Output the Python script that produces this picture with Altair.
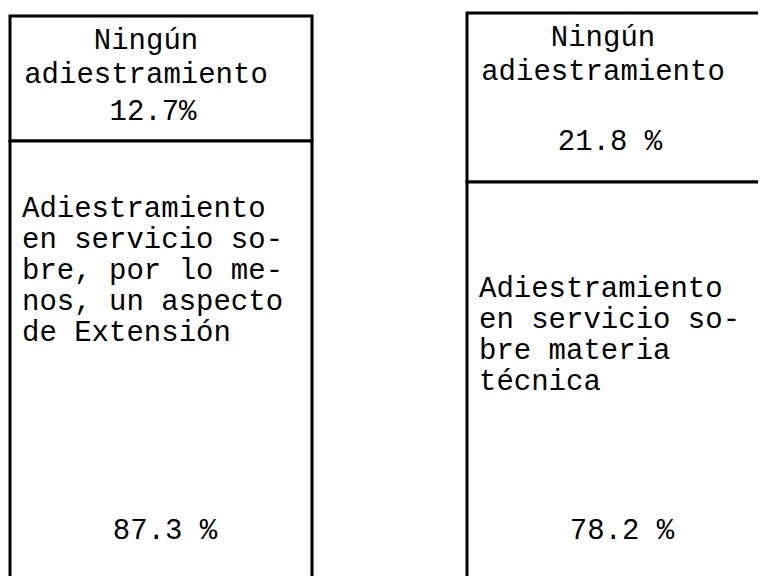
import altair as alt
import pandas as pd

# ---- data ----
paneles = ["Extensión", "Materia técnica"]
ningun_pct = [12.7, 21.8]
adiestr_pct = [87.3, 78.2]
ningun_txt = ["12.7%", "21.8 %"]
adiestr_txt = ["87.3 %", "78.2 %"]
etiqueta_sup = "Ningún\nadiestramiento"
etiqueta_inf = [
    "Adiestramiento\nen servicio so-\nbre, por lo me-\nnos, un aspecto\nde Extensión",
    "Adiestramiento\nen servicio so-\nbre materia\ntécnica",
]

# ---- styling per panel (scale windows / label offsets) ----
y_dominios = [[43.1, 100.8], [27.4, 100.65]]
anchos = [306, 293]
inf_dy = [53, 92]
pct_sup_dy = [-44, -55]
pct_inf_dy = [375, 334]

FONT = "Liberation Mono"
FS = 29


def panel(i):
    df = pd.DataFrame({
        "panel": [paneles[i]] * 2,
        "segmento": ["Ningún adiestramiento", "Adiestramiento en servicio"],
        "valor": [ningun_pct[i], adiestr_pct[i]],
        "orden": [1, 0],
        "etiqueta": [etiqueta_sup, etiqueta_inf[i]],
        "pct": [ningun_txt[i], adiestr_txt[i]],
    })
    base = alt.Chart(df).transform_stack(
        stack="valor", groupby=["panel"], as_=["y0", "y1"],
        sort=[alt.SortField("orden", order="ascending")],
    )
    xs = alt.Scale(range=[2, 304], paddingInner=0, paddingOuter=0)
    ys = alt.Scale(domain=y_dominios[i], nice=False, zero=False)
    X = alt.X("panel:N", scale=xs, axis=None)
    XL = alt.X("panel:N", scale=xs, axis=None, bandPosition=0)

    barras = base.mark_bar(fill="white", stroke="black", strokeWidth=3, clip=True).encode(
        x=X,
        y=alt.Y("y0:Q", scale=ys, axis=None),
        y2="y1:Q",
    )
    sup = base.transform_filter("datum.orden == 1")
    inf = base.transform_filter("datum.orden == 0")

    txt_sup = sup.mark_text(font=FONT, fontSize=FS, color="black", lineBreak="\n",
                            lineHeight=34, baseline="top", align="center", dx=-15, dy=10).encode(
        x=X, y=alt.Y("y1:Q", scale=ys, axis=None), text="etiqueta:N")
    pct_sup = sup.mark_text(font=FONT, fontSize=FS, color="black", baseline="top",
                            align="center", dx=-8, dy=pct_sup_dy[i]).encode(
        x=X, y=alt.Y("y0:Q", scale=ys, axis=None), text="pct:N")
    txt_inf = inf.mark_text(font=FONT, fontSize=FS, color="black", lineBreak="\n",
                            lineHeight=31, baseline="top", align="left", dx=12, dy=inf_dy[i]).encode(
        x=XL, y=alt.Y("y1:Q", scale=ys, axis=None), text="etiqueta:N")
    pct_inf = inf.mark_text(font=FONT, fontSize=FS, color="black", baseline="top",
                            align="center", dx=4, dy=pct_inf_dy[i]).encode(
        x=X, y=alt.Y("y1:Q", scale=ys, axis=None), text="pct:N")

    return alt.layer(barras, txt_sup, pct_sup, txt_inf, pct_inf).properties(
        width=anchos[i], height=568)


chart = alt.hconcat(panel(0), panel(1), spacing=151).properties(
    padding={"left": 0, "top": 0, "right": 0, "bottom": 0}
).configure_view(stroke=None).configure_concat(spacing=151)

chart.save("out.html", embed_options={"renderer": "svg", "actions": False})
